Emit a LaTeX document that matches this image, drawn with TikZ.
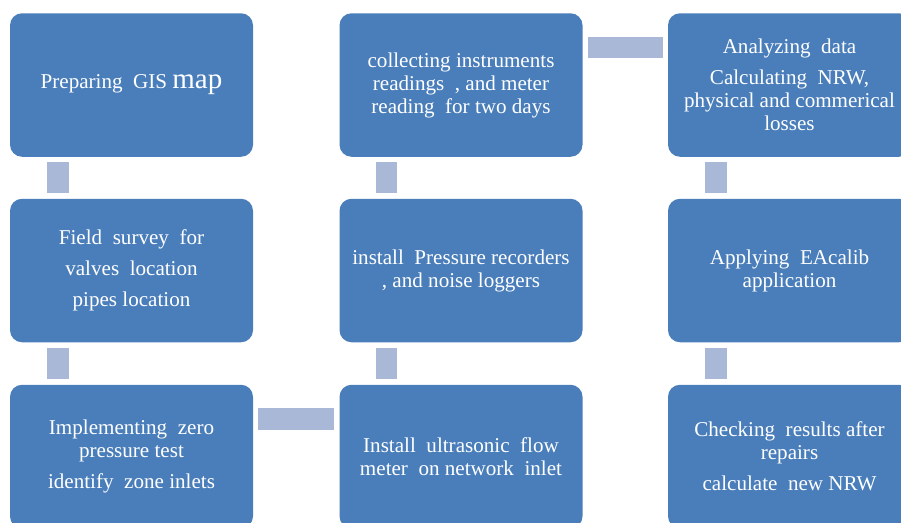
\documentclass[tikz,border=0pt]{standalone}
\usepackage{fontspec}
\setmainfont{Liberation Serif}
\newfontfamily\boxfont{Liberation Serif}
\usepackage{tikz}
\usetikzlibrary{calc,positioning}
\definecolor{boxblue}{RGB}{74,126,187}
\definecolor{barblue}{RGB}{168,184,214}

\begin{document}
\begin{tikzpicture}[stepbox/.style={rectangle, rounded corners=0.24cm, fill=boxblue, minimum width=4.86cm, minimum height=2.87cm, inner sep=0pt, text=white, align=center, font=\boxfont\fontsize{12}{13.1}\selectfont}, link/.style={draw=barblue, line width=0.43cm}]
\useasboundingbox (0cm,0cm) rectangle (18.02cm,-10.44cm);
\clip (0cm,0cm) rectangle (18.02cm,-10.44cm);
\node[stepbox] (1) at (2.63cm,-1.70cm) {Preparing\ \ GIS\ {\fontsize{16.5}{16}\selectfont map}};
\node[stepbox] (2) at (2.63cm,-5.41cm) {Field\ \ survey\ \ for\\[4.5pt] valves\ \ location\\[4.5pt] pipes\ location};
\node[stepbox] (3) at (2.63cm,-9.13cm) {Implementing\ \ zero\\ pressure test\\[4.5pt] identify\ \ zone inlets};
\node[stepbox] (4) at (9.22cm,-9.13cm) {Install\ \ ultrasonic\ \ flow\\ meter\ \ on network\ \ inlet};
\node[stepbox] (5) at (9.22cm,-5.41cm) {install\ \ Pressure recorders\\ , and noise loggers};
\node[stepbox] (6) at (9.22cm,-1.70cm) {collecting instruments\\ readings\ \ , and meter\\ reading\ \ for two days};
\node[stepbox] (7) at (15.79cm,-1.70cm) {Analyzing\ \ data\\[4.5pt] Calculating\ \ NRW,\\ physical and commerical\\ losses};
\node[stepbox] (8) at (15.79cm,-5.41cm) {Applying\ \ EAcalib\\ application};
\node[stepbox] (9) at (15.79cm,-9.13cm) {Checking\ \ results\ after\\ repairs\\[4.5pt] calculate\ \ new\ NRW};
\draw[link] ($(1.south west)+(0.97,-0.1)$) -- ($(2.north west)+(0.97,0.1)$);
\draw[link] ($(2.south west)+(0.97,-0.1)$) -- ($(3.north west)+(0.97,0.1)$);
\draw[link] ($(3.north east)+(0.1,-0.69)$) -- ($(4.north west)+(-0.1,-0.69)$);
\draw[link] ($(4.north west)+(0.95,0.1)$) -- ($(5.south west)+(0.95,-0.1)$);
\draw[link] ($(5.north west)+(0.95,0.1)$) -- ($(6.south west)+(0.95,-0.1)$);
\draw[link] ($(6.north east)+(0.1,-0.69)$) -- ($(7.north west)+(-0.1,-0.69)$);
\draw[link] ($(7.south west)+(0.97,-0.1)$) -- ($(8.north west)+(0.97,0.1)$);
\draw[link] ($(8.south west)+(0.97,-0.1)$) -- ($(9.north west)+(0.97,0.1)$);
\end{tikzpicture}
\end{document}
